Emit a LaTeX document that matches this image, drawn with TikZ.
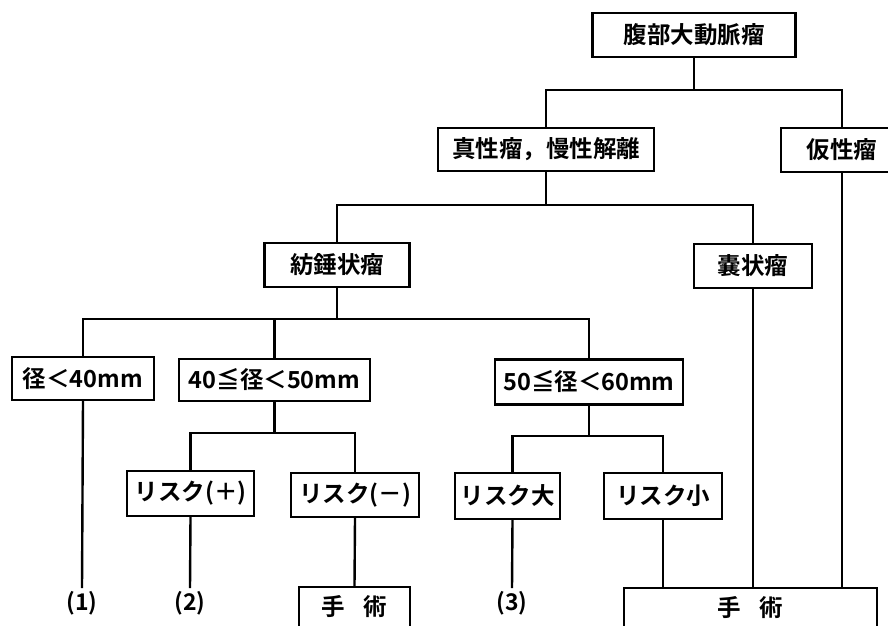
\documentclass[tikz,border=0pt]{standalone}
\usepackage{fontspec}
\setmainfont{Noto Sans CJK JP}[BoldFont={Noto Sans CJK JP Bold}]
\begin{document}
\begin{tikzpicture}[x=1pt,y=-1pt,
  box/.style={draw,line width=2.2pt,inner sep=0pt,font=\fontsize{23.5}{27}\selectfont\bfseries,minimum height=44},
  leaf/.style={inner sep=6pt,anchor=north,font=\fontsize{23}{27}\selectfont\bfseries},
  ln/.style={line width=2.4pt}]
\clip (0,0) rectangle (888,625);
\fill[white] (0,0) rectangle (888,625);
% nodes
\node[box,minimum width=203] (A) at (694,35) {腹部大動脈瘤};
\node[box,minimum width=216,minimum height=43] (B) at (546,149.5) {真性瘤，慢性解離};
\node[box,minimum width=122] (P) at (842,150) {仮性瘤};
\node[box,minimum width=145] (C) at (337,265) {紡錘状瘤};
\node[box,minimum width=118] (N) at (753,266) {嚢状瘤};
\node[box,minimum width=142,minimum height=43] (D1) at (83,378.5) {径＜40mm};
\node[box,minimum width=191,minimum height=42] (D2) at (274.5,380) {40≦径＜50mm};
\node[box,minimum width=188,minimum height=45] (D3) at (589,382) {50≦径＜60mm};
\node[box,minimum width=127,minimum height=45] (R1) at (190.5,493.5) {リスク(＋)};
\node[box,minimum width=128] (R2) at (355,495) {リスク(－)};
\node[box,minimum width=105,minimum height=46] (R3) at (507.5,496) {リスク大};
\node[box,minimum width=118,minimum height=46] (R4) at (663,496) {リスク小};
\node[box,minimum width=111,minimum height=40] (S1) at (354.5,607) {手\hspace{0.8em}術};
\node[box,minimum width=253,minimum height=40] (S2) at (750.5,608) {手\hspace{0.8em}術};
\node[leaf] (L1) at (82,585) {(1)};
\node[leaf] (L2) at (190,585) {(2)};
\node[leaf] (L3) at (512,585) {(3)};
% bus coordinates
\coordinate (b1) at (0,90);
\coordinate (b2) at (0,205);
\coordinate (b3) at (0,319);
\coordinate (b4) at (0,433);
\coordinate (b5) at (0,436);
% connectors
\draw[ln] (A.south) -- (A.south |- b1);
\draw[ln] (B.north) -- (B.north |- b1) -| (P.north);
\draw[ln] (B.south) -- (B.south |- b2);
\draw[ln] (C.north) -- (C.north |- b2) -| (N.north);
\draw[ln] (C.south) -- (C.south |- b3);
\draw[ln] (D1.north) -- (D1.north |- b3) -| (D3.north);
\draw[ln] (D2.north) -- (D2.north |- b3);
\draw[ln] (D2.south) -- (D2.south |- b4);
\draw[ln] (R1.north) -- (R1.north |- b4) -| (R2.north);
\draw[ln] (D3.south) -- (D3.south |- b5);
\draw[ln] ([xshift=5pt]R3.north) -- ([xshift=5pt]R3.north |- b5) -| (R4.north);
\draw[ln] (D1.south) -- ([yshift=-3pt]L1.north);
\draw[ln] (R1.south) -- ([yshift=-3pt]L2.north);
\draw[ln] ([xshift=5pt]R3.south) -- ([yshift=-3pt]L3.north);
\draw[ln] (R2.south) -- (S1.north);
\draw[ln] (R4.south) -- (R4.south |- S2.north);
\draw[ln] (N.south) -- (N.south |- S2.north);
\draw[ln] (P.south) -- (P.south |- S2.north);
\end{tikzpicture}
\end{document}
